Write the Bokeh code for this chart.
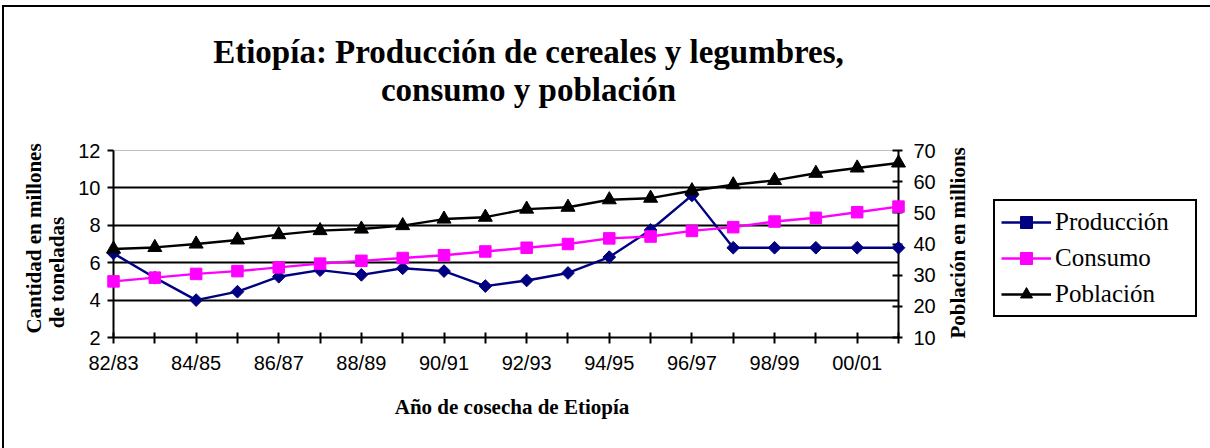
import numpy as np
from bokeh.plotting import figure
from bokeh.models import Range1d, LinearAxis, FixedTicker, Legend, LegendItem
from bokeh.core.properties import value
from bokeh.embed import file_html
from bokeh.resources import INLINE

# ---------------- data ----------------
seasons = ["82/83", "83/84", "84/85", "85/86", "86/87", "87/88", "88/89", "89/90",
           "90/91", "91/92", "92/93", "93/94", "94/95", "95/96", "96/97", "97/98",
           "98/99", "99/00", "00/01", "01/02"]
produccion = [6.5, 5.2, 4.0, 4.45, 5.25, 5.6, 5.35, 5.7, 5.55, 4.75,
              5.05, 5.45, 6.3, 7.75, 9.6, 6.8, 6.8, 6.8, 6.8, 6.8]
consumo = [5.0, 5.2, 5.4, 5.55, 5.75, 5.95, 6.1, 6.25, 6.4, 6.6,
           6.8, 7.0, 7.3, 7.4, 7.7, 7.9, 8.2, 8.4, 8.7, 9.0]
poblacion = [38.4, 38.9, 40.0, 41.3, 43.0, 44.3, 44.8, 45.9, 48.0, 48.6,
             51.2, 51.8, 54.2, 54.7, 57.1, 59.0, 60.4, 62.7, 64.4, 66.0]
left_ticks = [2, 4, 6, 8, 10, 12]
grid_ticks = [4, 6, 8, 10]
right_ticks = [10, 20, 30, 40, 50, 60, 70]

title_lines = ["Etiopía: Producción de cereales y legumbres,", "consumo y población"]
x_title = "Año de cosecha de Etiopía"
y_title_lines = ["Cantidad en millones", "de toneladas"]
y2_title = "Población en millions"
series_names = ["Producción", "Consumo", "Población"]

# ---------------- layout (page pixels) ----------------
OX, OY = 4, 7                       # canvas origin on the page (css margin + border)
BL, BR, BT, BB = 109, 312, 143, 111
FW, FH = 785, 187                   # plot-area size
FL, FT = OX + BL, OY + BT           # plot-area top-left on the page
title_pos = [(528, 51.5), (528, 89.5)]
x_title_pos = (511.5, 406)
y_title_pos = [(33.5, 238), (56.7, 272)]
y2_title_pos = (957.3, 242.4)
LEGEND_PANEL_X0 = 1164              # measured origin of the legend's side panel
legend_left, legend_bottom = 993, 317

x_idx = list(range(len(seasons)))
XMAX = len(seasons) - 1
SERIF = "Liberation Serif"
SANS = "Liberation Sans"


def dx(px):
    return (px - FL) / FW * XMAX


def dy(py):
    return 12 - (py - FT) / FH * 10


p = figure(frame_width=FW, frame_height=FH, output_backend="svg", toolbar_location=None, tools="",
           x_range=Range1d(0, XMAX), y_range=Range1d(2, 12),
           min_border_left=BL, min_border_right=BR, min_border_top=BT, min_border_bottom=BB)
p.styles = {"margin-left": "2px", "margin-top": "5px",
            "border-left": "2px solid black", "border-top": "2px solid black"}
p.extra_y_ranges = {"pop": Range1d(10, 70)}
p.background_fill_color = "white"
p.border_fill_color = "white"
p.outline_line_color = "#c0c0c0"
p.outline_line_width = 1

# grid
p.xgrid.visible = False
p.ygrid.ticker = FixedTicker(ticks=grid_ticks)
p.ygrid.grid_line_color = "black"
p.ygrid.grid_line_width = 2


def style_axis(ax, tin, tout, standoff):
    ax.major_tick_in = tin
    ax.major_tick_out = tout
    ax.minor_tick_line_color = None
    ax.axis_line_width = 2
    ax.major_tick_line_width = 2
    ax.major_label_text_font = SANS
    ax.major_label_text_font_size = "20px"
    ax.major_label_text_color = "black"
    ax.major_label_standoff = standoff


xa = p.xaxis[0]
xa.ticker = FixedTicker(ticks=x_idx)
xa.major_label_overrides = {i: (s if i % 2 == 0 else "") for i, s in enumerate(seasons)}
style_axis(xa, 5, 6, 8)

ya = p.yaxis[0]
ya.ticker = FixedTicker(ticks=left_ticks)
style_axis(ya, 0, 6, 7)

ra = LinearAxis(y_range_name="pop", ticker=FixedTicker(ticks=right_ticks))
style_axis(ra, 6, 4, 11)
p.add_layout(ra, "right")

# series
NAVY, MAG = "#000080", "#ff00ff"
LW = 2.4
l1 = p.line(x_idx, produccion, line_color=NAVY, line_width=LW, level="overlay")
m1 = p.scatter(x_idx, produccion, marker="square", angle=np.pi / 4, size=9,
               fill_color=NAVY, line_color=NAVY, level="overlay")
l2 = p.line(x_idx, consumo, line_color=MAG, line_width=LW, level="overlay")
m2 = p.scatter(x_idx, consumo, marker="square", size=11.5,
               fill_color=MAG, line_color=MAG, level="overlay")
l3 = p.line(x_idx, poblacion, line_color="black", line_width=LW, y_range_name="pop", level="overlay")
m3 = p.scatter(x_idx, poblacion, marker="triangle", size=14,
               fill_color="black", line_color="black", y_range_name="pop", level="overlay")

# titles (text glyphs placed outside the plot area)
p.text(x=[dx(x) for x, _ in title_pos], y=[dy(y) for _, y in title_pos], text=title_lines,
       text_align="center", text_baseline="middle", text_font=value(SERIF),
       text_font_style="bold", text_font_size="33px", text_color="black", level="overlay")
p.text(x=[dx(x_title_pos[0])], y=[dy(x_title_pos[1])], text=[x_title],
       text_align="center", text_baseline="middle", text_font=value(SERIF),
       text_font_style="bold", text_font_size="21px", text_color="black", level="overlay")
rot_pos = y_title_pos + [y2_title_pos]
p.text(x=[dx(x) for x, _ in rot_pos], y=[dy(y) for _, y in rot_pos],
       text=y_title_lines + [y2_title], angle=np.pi / 2,
       text_align="center", text_baseline="middle", text_font=value(SERIF),
       text_font_style="bold", text_font_size="21px", text_color="black", level="overlay")

legend = Legend(items=[LegendItem(label=series_names[0], renderers=[l1, m1]),
                       LegendItem(label=series_names[1], renderers=[l2, m2]),
                       LegendItem(label=series_names[2], renderers=[l3, m3])],
                location=(legend_left - LEGEND_PANEL_X0, FT + FH - legend_bottom),
                orientation="vertical")
legend.label_text_font = SERIF
legend.label_text_font_size = "25px"
legend.label_text_color = "black"
legend.glyph_width = 50
legend.glyph_height = 30
legend.label_standoff = 4
legend.padding = 6
legend.spacing = 6
legend.label_width = 134
legend.margin = 0
legend.border_line_color = "black"
legend.border_line_alpha = 1.0
legend.border_line_width = 2
legend.background_fill_color = "white"
legend.background_fill_alpha = 1
p.add_layout(legend, "right")

open("out.html", "w").write(file_html(p, INLINE))
